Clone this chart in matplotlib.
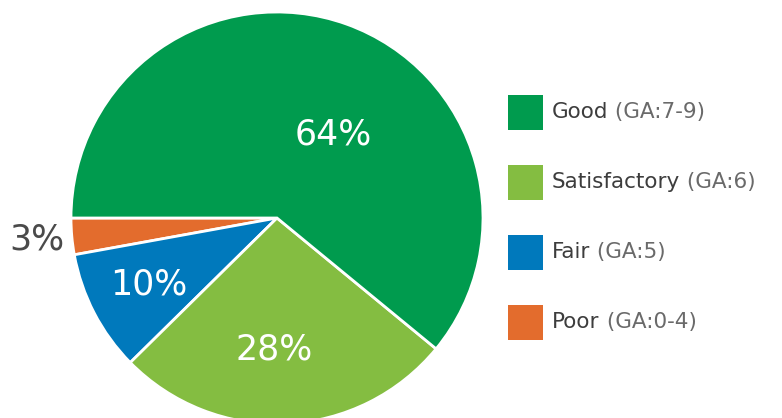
import numpy as np
import matplotlib
matplotlib.use("Agg")
import matplotlib.pyplot as plt
from matplotlib.patches import Rectangle

# ── data ────────────────────────────────────────────────────────────────────
categories = ["Good", "Satisfactory", "Fair", "Poor"]
ranges     = ["(GA:7-9)", "(GA:6)", "(GA:5)", "(GA:0-4)"]
shares     = [64, 28, 10, 3]
colors     = ["#009B4E", "#84BD41", "#0079BC", "#E36C2D"]

plt.rcParams["font.family"] = ["DejaVu Sans"]

W, H = 782, 418
fig = plt.figure(figsize=(W / 100, H / 100), dpi=100)
ax = fig.add_axes([0, 0, 1, 1])

# pie drawn counter-clockwise from 9 o'clock: Poor, Fair, Satisfactory, Good
order = [3, 2, 1, 0]
cx, cy, r = 277, 200, 206
wedges, _ = ax.pie([shares[i] for i in order],
                   colors=[colors[i] for i in order],
                   startangle=180, counterclock=True,
                   center=(cx, cy), radius=r,
                   wedgeprops=dict(edgecolor="white", linewidth=2))

# value labels: distance (fraction of radius), angle nudge, colour
label_style = {
    "Good":         (0.49, -14, "white"),
    "Satisfactory": (0.64, -4, "white"),
    "Fair":         (0.70, 0, "white"),
    "Poor":         (1.17, 0, "#4a4a4a"),
}
for w, i in zip(wedges, order):
    dist, nudge, col = label_style[categories[i]]
    ang = np.deg2rad((w.theta1 + w.theta2) / 2 + nudge)
    ax.text(cx + dist * r * np.cos(ang), cy + dist * r * np.sin(ang),
            f"{shares[i]}%", color=col, fontsize=25,
            ha="center", va="center")

# legend
for k, (name, rng, col) in enumerate(zip(categories, ranges, colors)):
    y = H - 112 - 70 * k
    ax.add_patch(Rectangle((508, y - 17.5), 35, 35, color=col, lw=0))
    t = ax.text(552, y, name, color="#3d3d3d", fontsize=15.5,
                ha="left", va="center")
    ax.annotate(" " + rng, xy=(1, 0), xycoords=t, color="#6a6a6a",
                fontsize=15.5, ha="left", va="bottom")

ax.set_xlim(0, W)
ax.set_ylim(0, H)
ax.set_aspect("equal")
ax.axis("off")

fig.savefig("out.png", dpi=100)
